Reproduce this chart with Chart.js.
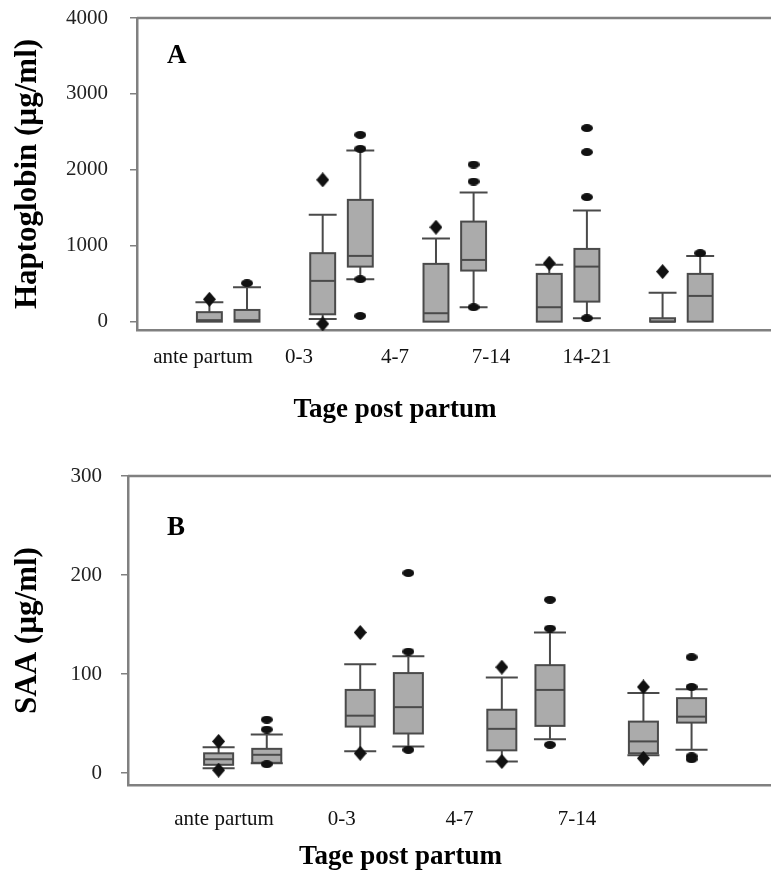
<!DOCTYPE html>
<html>
<head>
<meta charset="utf-8">
<script src="https://cdn.jsdelivr.net/npm/chart.js@4.4.0/dist/chart.umd.min.js"></script>
<style>
    html, body { margin: 0; padding: 0; background: #fff; }
    canvas { position: absolute; left: 0; }
    #chartA { top: 0; }
    #chartB { top: 430px; }
</style>
</head>
<body>
<canvas id="chartA" width="771" height="430"></canvas>
<canvas id="chartB" width="771" height="445"></canvas>
<script>
// Panel A - Haptoglobin (µg/ml)
// each box: [lower whisker, q1, median, q3, upper whisker]
const hapCategories = ['ante partum', '0-3', '4-7', '7-14', '14-21'];
const hapBoxes1 = [
    [0, 0, 20, 125, 254],
    [35, 97, 537, 902, 1407],
    [0, 0, 111, 761, 1094],
    [0, 0, 190, 629, 748],
    [0, 0, 0, 45, 382]
];
const hapBoxes2 = [
    [0, 0, 20, 154, 453],
    [559, 725, 866, 1604, 2255],
    [190, 673, 813, 1318, 1701],
    [45, 264, 725, 958, 1464],
    [0, 0, 339, 629, 866]
];
const hapOutliers1 = [[295], [1868, -30], [1244], [770], [659]];
const hapOutliers2 = [[506], [2277, 2461, 559, 75], [1846, 2070, 190], [1640, 2233, 2550, 45], [902]];
const hapTicks = [0, 1000, 2000, 3000, 4000];

// Panel B - SAA (µg/ml)
const saaCategories = ['ante partum', '0-3', '4-7', '7-14'];
const saaBoxes1 = [
    [5, 8.4, 14, 20, 26],
    [22, 47, 58, 84, 110],
    [11.7, 23, 44.7, 64, 96.5],
    [18, 20, 32, 52, 81]
];
const saaBoxes2 = [
    [10, 10.4, 18.5, 24.5, 39],
    [27, 40, 66.6, 101, 118],
    [34.3, 47.7, 84, 109, 142],
    [23.5, 51, 57, 75.7, 84.8]
];
const saaOutliers1 = [[32, 3], [142, 20], [107, 11.7], [87, 15]];
const saaOutliers2 = [[44, 54, 9], [122.7, 202, 23.5], [146, 175, 28.6], [87, 117, 17, 14]];
const saaTicks = [0, 100, 200, 300];

const X_TITLE = 'Tage post partum';
const AXIS_COLOR = '#808080';
const SERIF = '"Liberation Serif", "Times New Roman", serif';

function markerCanvas(shape, w, h) {
    const c = document.createElement('canvas');
    c.width = w;
    c.height = h;
    const g = c.getContext('2d');
    g.fillStyle = '#111';
    g.beginPath();
    if (shape === 'diamond') {
        g.moveTo(w / 2, 0);
        g.lineTo(w, h / 2);
        g.lineTo(w / 2, h);
        g.lineTo(0, h / 2);
    } else {
        g.ellipse(w / 2, h / 2, w / 2, h / 2, 0, 0, Math.PI * 2);
    }
    g.closePath();
    g.fill();
    return c;
}

const diamond = markerCanvas('diamond', 13, 15);
const ellipse = markerCanvas('ellipse', 12, 8);

function outlierPoints(outliers, offset) {
    const pts = [];
    outliers.forEach((vals, i) => vals.forEach(v => pts.push({ x: i + offset, y: v })));
    return pts;
}

// draws boxes and whiskers through the chart scales
const boxPlotPlugin = {
    id: 'boxPlot',
    beforeDatasetsDraw(chart, args, opts) {
        const { ctx, scales: { x, y } } = chart;
        ctx.save();
        ctx.strokeStyle = '#4a4a4a';
        ctx.lineWidth = 2;
        opts.series.forEach(s => {
            s.boxes.forEach((b, i) => {
                const [lo, q1, med, q3, hi] = b;
                const cx = x.getPixelForValue(i + s.offset);
                const half = x.getPixelForValue(i + s.offset + opts.boxWidth / 2) - cx;
                const capHalf = half + 1.5;
                const pLo = y.getPixelForValue(lo);
                const pQ1 = y.getPixelForValue(q1);
                const pMed = y.getPixelForValue(med);
                const pQ3 = y.getPixelForValue(q3);
                const pHi = y.getPixelForValue(hi);

                ctx.beginPath();
                if (hi > q3) {
                    ctx.moveTo(cx, pQ3);
                    ctx.lineTo(cx, pHi);
                    ctx.moveTo(cx - capHalf, pHi);
                    ctx.lineTo(cx + capHalf, pHi);
                }
                if (lo < q1) {
                    ctx.moveTo(cx, pQ1);
                    ctx.lineTo(cx, pLo);
                    ctx.moveTo(cx - capHalf, pLo);
                    ctx.lineTo(cx + capHalf, pLo);
                }
                ctx.stroke();

                ctx.fillStyle = '#ababab';
                ctx.fillRect(cx - half, pQ3, half * 2, pQ1 - pQ3);
                ctx.strokeRect(cx - half, pQ3, half * 2, pQ1 - pQ3);

                ctx.beginPath();
                ctx.moveTo(cx - half, pMed);
                ctx.lineTo(cx + half, pMed);
                ctx.stroke();
            });
        });
        ctx.restore();
    }
};

// top frame line, panel letter and x title centred under the category labels
const framePlugin = {
    id: 'frame',
    afterDraw(chart, args, opts) {
        const { ctx, chartArea, scales: { xl } } = chart;
        ctx.save();
        ctx.strokeStyle = AXIS_COLOR;
        ctx.lineWidth = 2.5;
        ctx.beginPath();
        ctx.moveTo(chartArea.left, chartArea.top);
        ctx.lineTo(chartArea.right, chartArea.top);
        ctx.stroke();

        ctx.fillStyle = '#000';
        ctx.font = 'bold 27px ' + SERIF;
        ctx.textBaseline = 'alphabetic';
        ctx.textAlign = 'left';
        ctx.fillText(opts.letter, chartArea.left + opts.dx, chartArea.top + opts.dy);

        const mid = (opts.count - 1) / 2;
        ctx.textAlign = 'center';
        ctx.textBaseline = 'middle';
        ctx.fillText(X_TITLE, xl.getPixelForValue(mid), chartArea.bottom + opts.titleDy);
        ctx.restore();
    }
};

function makePanel(canvasId, p) {
    const ctx = document.getElementById(canvasId).getContext('2d');
    return new Chart(ctx, {
        type: 'scatter',
        data: {
            datasets: [
                {
                    data: outlierPoints(p.outliers1, -p.offset),
                    pointStyle: diamond,
                    pointRadius: 6,
                    clip: false
                },
                {
                    data: outlierPoints(p.outliers2, p.offset),
                    pointStyle: ellipse,
                    pointRadius: 6,
                    clip: false
                }
            ]
        },
        options: {
            responsive: false,
            animation: false,
            devicePixelRatio: 1,
            layout: { autoPadding: false, padding: { top: p.top, left: 0, right: 0, bottom: 0 } },
            plugins: {
                legend: { display: false },
                tooltip: { enabled: false },
                boxPlot: {
                    boxWidth: p.boxWidth,
                    series: [
                        { boxes: p.boxes1, offset: -p.offset },
                        { boxes: p.boxes2, offset: p.offset }
                    ]
                },
                frame: {
                    letter: p.letter,
                    dx: p.letterDx,
                    dy: p.letterDy,
                    count: p.categories.length,
                    titleDy: p.titleDy
                }
            },
            scales: {
                x: {
                    type: 'linear',
                    display: false,
                    min: p.xMin,
                    max: p.xMax
                },
                xl: {
                    type: 'linear',
                    position: 'bottom',
                    min: p.labelMin,
                    max: p.labelMax,
                    afterBuildTicks: scale => {
                        scale.ticks = p.categories.map((c, i) => ({ value: i }));
                    },
                    afterFit: scale => {
                        scale.height = p.axisHeight;
                        scale.paddingLeft = 0;
                        scale.paddingRight = 0;
                    },
                    grid: { display: false },
                    border: { display: true, color: AXIS_COLOR, width: 2.5 },
                    ticks: {
                        autoSkip: false,
                        maxRotation: 0,
                        padding: p.labelPad,
                        color: '#111',
                        font: { family: SERIF, size: 21 },
                        callback: value => p.categories[value]
                    }
                },
                y: {
                    type: 'linear',
                    min: p.yMin,
                    max: p.yMax,
                    afterBuildTicks: scale => {
                        scale.ticks = p.ticks.map(v => ({ value: v }));
                    },
                    afterFit: scale => {
                        scale.width = p.yWidth;
                        scale.paddingTop = 0;
                        scale.paddingBottom = 0;
                    },
                    grid: {
                        drawOnChartArea: false,
                        drawTicks: true,
                        tickLength: 7,
                        color: AXIS_COLOR,
                        lineWidth: 1.5
                    },
                    border: { display: true, color: AXIS_COLOR, width: 2.5 },
                    ticks: {
                        padding: p.tickPad,
                        color: '#222',
                        font: { family: SERIF, size: 21 },
                        callback: value => String(value)
                    },
                    title: {
                        display: true,
                        text: p.yTitle,
                        color: '#000',
                        font: { family: SERIF, size: 31, weight: 'bold' },
                        padding: { top: 9, bottom: 0 }
                    }
                }
            }
        },
        plugins: [boxPlotPlugin, framePlugin]
    });
}

makePanel('chartA', {
    categories: hapCategories,
    boxes1: hapBoxes1,
    boxes2: hapBoxes2,
    outliers1: hapOutliers1,
    outliers2: hapOutliers2,
    ticks: hapTicks,
    yTitle: 'Haptoglobin (µg/ml)',
    letter: 'A',
    letterDx: 30,
    letterDy: 45,
    top: 18,
    yMin: -110,
    yMax: 4000,
    yWidth: 137,
    tickPad: 22,
    axisHeight: 100,
    labelPad: 7,
    titleDy: 80,
    xMin: -0.805,
    xMax: 4.791,
    labelMin: -0.6875,
    labelMax: 5.917,
    offset: 0.166,
    boxWidth: 0.22
});

makePanel('chartB', {
    categories: saaCategories,
    boxes1: saaBoxes1,
    boxes2: saaBoxes2,
    outliers1: saaOutliers1,
    outliers2: saaOutliers2,
    ticks: saaTicks,
    yTitle: 'SAA (µg/ml)',
    letter: 'B',
    letterDx: 39,
    letterDy: 59,
    top: 46,
    yMin: -12,
    yMax: 300,
    yWidth: 128,
    tickPad: 19,
    axisHeight: 90,
    labelPad: 14,
    titleDy: 72,
    xMin: -0.810,
    xMax: 3.731,
    labelMin: -0.816,
    labelMax: 4.648,
    offset: 0.17,
    boxWidth: 0.205
});
</script>
</body>
</html>
